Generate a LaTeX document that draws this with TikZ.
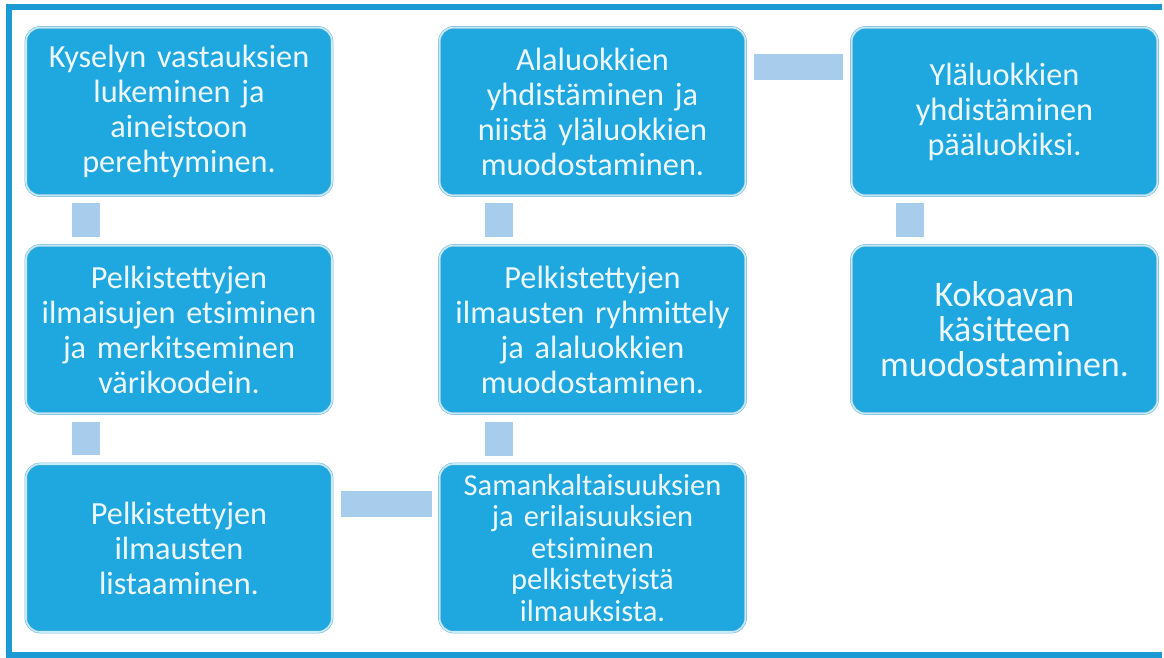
\documentclass[tikz,border=0pt]{standalone}
\usepackage{fontspec}
\setmainfont{Carlito}
\usetikzlibrary{calc}
\definecolor{boxblue}{HTML}{1FA8DF}
\definecolor{connblue}{HTML}{A8CCEB}
\definecolor{framebl}{HTML}{1C9AD6}
\definecolor{txtcol}{HTML}{EEF8FC}
\definecolor{rimout}{HTML}{6FB3D0}
\definecolor{rimin}{HTML}{C5EBF8}
\begin{document}
\begin{tikzpicture}[x=1pt,y=-1pt,
  stepbox/.style={rectangle, rounded corners=14pt, fill=boxblue, draw=rimout,
    double=rimin, double distance=1.6pt, line width=0.5pt,
    minimum width=306pt, minimum height=168pt, text width=300pt,
    align=center, text=txtcol, inner sep=0pt,
    font=\fontsize{32.3}{35}\selectfont},
  connv/.style={draw=connblue, line width=28pt},
  connh/.style={draw=connblue, line width=26pt}]
\useasboundingbox (0,0) rectangle (1164,657);
\fill[white] (0,0) rectangle (1164,657);
\draw[framebl, line width=6pt] (8.5,7) -- (1162,7);
\draw[framebl, line width=6pt] (8.5,4) -- (8.5,658);
\draw[framebl, line width=6pt] (8.5,655) -- (1162,655);

\node[stepbox] (b1) at (179,111.5) {Kyselyn vastauksien\\lukeminen ja\\aineistoon\\perehtyminen.};
\node[stepbox] (b2) at (179,329.5) {Pelkistettyjen\\ilmaisujen etsiminen\\ja merkitseminen\\värikoodein.};
\node[stepbox] (b3) at (179,548) {Pelkistettyjen\\ilmausten\\listaaminen.};
\node[stepbox, font=\fontsize{30.5}{31.5}\selectfont] (b6) at (592.5,548) {Samankaltaisuuksien\\ja erilaisuuksien\\etsiminen\\pelkistetyistä\\ilmauksista.};
\node[stepbox] (b5) at (592.5,329.5) {Pelkistettyjen\\ilmausten ryhmittely\\ja alaluokkien\\muodostaminen.};
\node[stepbox] (b4) at (592.5,111.5) {Alaluokkien\\yhdistäminen ja\\niistä yläluokkien\\muodostaminen.};
\node[stepbox] (b7) at (1004.5,111.5) {Yläluokkien\\yhdistäminen\\pääluokiksi.};
\node[stepbox, font=\fontsize{36}{35}\selectfont] (b8) at (1004.5,329.5) {Kokoavan\\käsitteen\\muodostaminen.};

\draw[connv] ($(b1.south west)+(60,7)$) -- ($(b2.north west)+(60,-8)$);
\draw[connv] ($(b2.south west)+(60,8)$) -- ($(b3.north west)+(60,-9)$);
\draw[connh] ($(b3.north east)+(9,40)$) -- ($(b6.north west)+(-7,40)$);
\draw[connv] ($(b6.north west)+(60,-8)$) -- ($(b5.south west)+(60,8)$);
\draw[connv] ($(b5.north west)+(60,-8)$) -- ($(b4.south west)+(60,7)$);
\draw[connh] ($(b4.north east)+(8,40)$) -- ($(b7.north west)+(-8,40)$);
\draw[connv] ($(b7.south west)+(59,7)$) -- ($(b8.north west)+(59,-8)$);
\end{tikzpicture}
\end{document}
